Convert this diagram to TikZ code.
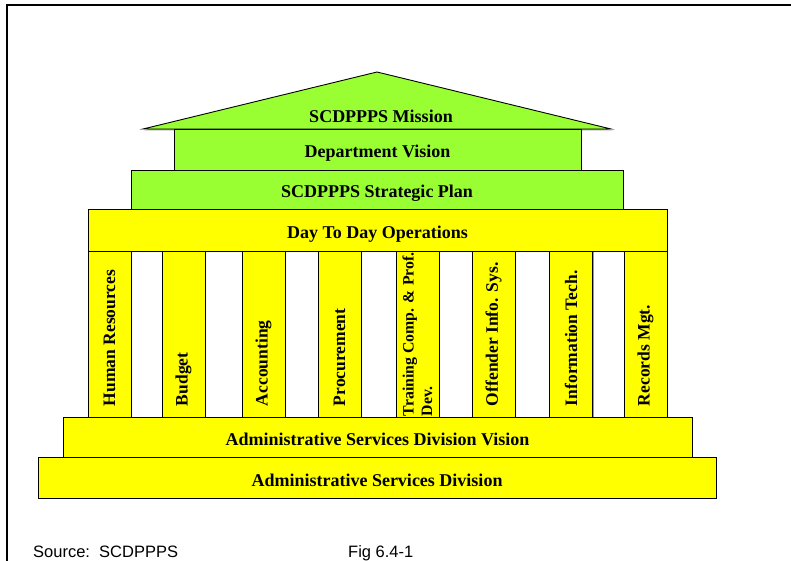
\documentclass[tikz,border=0pt]{standalone}
\usepackage{fontspec}
\setmainfont{Liberation Serif}
\newfontfamily\srcfont{Liberation Sans}
\usetikzlibrary{shadows}

\definecolor{roofgreen}{RGB}{153,255,51}
\definecolor{slabyellow}{RGB}{255,255,0}

\tikzset{
  boxshadow/.style={drop shadow={shadow xshift=1.3pt,shadow yshift=-1.3pt,fill=gray!80,opacity=1}},
  boxbase/.style={draw=black,boxshadow,line width=0.9pt,inner sep=0pt,
    font=\bfseries\fontsize{18}{21}\selectfont},
  greenbox/.style={boxbase,fill=roofgreen,text height=17pt,text depth=0pt},
  yellowbox/.style={boxbase,fill=slabyellow,text height=17pt,text depth=0pt},
  pillar/.style={boxbase,fill=slabyellow,rotate=90,minimum width=166pt,minimum height=43pt,
    inner xsep=11pt,text width=144pt,align=flush left,
    font=\bfseries\fontsize{17.5}{20}\selectfont},
  pillarwide/.style={},
  pillarsmall/.style={inner xsep=1pt,text width=164pt,
    font=\bfseries\fontsize{15.8}{18.5}\selectfont},
  srctext/.style={font=\srcfont\fontsize{16.5}{19}\selectfont,anchor=base west,inner sep=0pt}
}

\begin{document}
\begin{tikzpicture}[x=1pt,y=-1pt]
  \useasboundingbox (0,0) rectangle (791,561);
  \draw[line width=1.5pt] (7,561) -- (7,5) -- (791,5);

  % roof
  \coordinate (eaveL) at (143,129);
  \coordinate (ridge) at (377,72);
  \coordinate (eaveR) at (611,129);
  \draw[boxbase,fill=roofgreen] (eaveL) -- (ridge) -- (eaveR) -- cycle;
  \node[font=\bfseries\fontsize{18}{21}\selectfont,text depth=0pt,inner sep=0pt] (mission) at (381,116) {SCDPPPS Mission};

  \node[greenbox,minimum width=407pt,minimum height=41pt] (vision) at (377.5,149.5) {Department Vision};
  \node[greenbox,minimum width=492pt,minimum height=39pt] (plan) at (377,189.5) {SCDPPPS Strategic Plan};
  \node[yellowbox,minimum width=579pt,minimum height=42pt] (ops) at (377.5,230) {Day To Day Operations};

  % pillars
  \foreach \cx/\sty/\lbl [count=\i] in {109.5/pillarwide/Human Resources,
      183.5/pillarwide/Budget,
      263.5/pillarwide/Accounting,
      339.5/pillarwide/Procurement,
      417.5/pillarsmall/{Training Comp. \& Prof.\\Dev.},
      493.5/pillarwide/Offender Info. Sys.,
      571/pillarwide/Information Tech.,
      645.5/pillarwide/Records Mgt.}
    \node[pillar,\sty] (col\i) at (\cx,334) {\lbl};

  \node[yellowbox,minimum width=629pt,minimum height=40pt] (asdvision) at (377.5,437) {Administrative Services Division Vision};
  \node[yellowbox,minimum width=678pt,minimum height=41pt] (asd) at (377,477.5) {Administrative Services Division};

  \node[srctext] (source) at (33,557) {Source:\ \ SCDPPPS};
  \node[srctext] (fig) at (348,557) {Fig 6.4-1};
\end{tikzpicture}
\end{document}
